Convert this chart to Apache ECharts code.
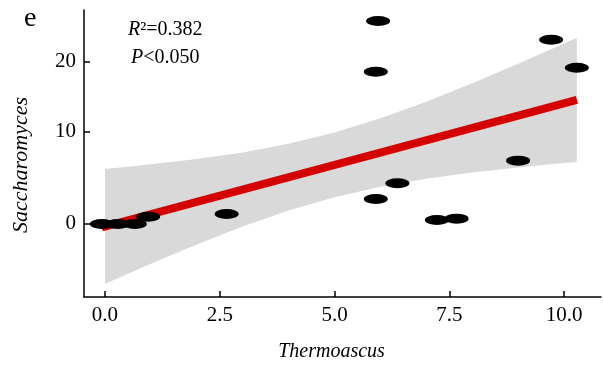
<!DOCTYPE html>
<html>
<head>
<meta charset="utf-8">
<script src="https://cdn.jsdelivr.net/npm/echarts@6/dist/echarts.min.js"></script>
<style>
html,body{margin:0;padding:0;background:#fff;}
#chart{width:603px;height:365px;}
</style>
</head>
<body>
<div id="chart"></div>
<script>
// Observed points (Thermoascus, Saccharomyces)
const pointX = [-0.07, 0.28, 0.65, 0.94, 2.65, 5.90, 6.37, 7.23, 7.66, 9.00, 5.95, 5.90, 9.72, 10.28];
const pointY = [0.0, 0.0, 0.0, 0.66, 0.91, 2.36, 3.98, 0.36, 0.48, 6.49, 26.74, 18.44, 23.55, 19.06];

// Fitted line end points
const lineX = [-0.07, 10.28];
const lineY = [-0.30, 14.30];

// Confidence band
const bandX  = [0, 0.5, 1, 2, 3, 4, 5, 6, 7, 8, 9, 10, 10.28];
const bandLo = [-4.60, -3.92, -3.22, -1.74, -0.23, 1.24, 2.54, 3.62, 4.46, 5.15, 5.71, 6.21, 6.34];
const bandHi = [5.54, 5.79, 6.06, 6.67, 7.45, 8.50, 9.90, 11.76, 14.03, 16.69, 19.67, 22.93, 23.89];

// Axis ticks
const xTicks = [0, 2.5, 5, 7.5, 10];
const yTicks = [0, 10, 20];

// The y axis of the original is drawn on a square-root scale
const OFF = 9.5;
const T = v => Math.sqrt(v + OFF);
const inv = u => u * u - OFF;

const FONT = 'Liberation Serif';
const chart = echarts.init(document.getElementById('chart'), null, {renderer: 'canvas'});

chart.setOption({
  animation: false,
  backgroundColor: '#fff',
  grid: {left: 84, right: 2, top: 10, bottom: 68},
  xAxis: {
    type: 'value', min: -0.4575, max: 10.806,
    axisLine: {onZero: false, lineStyle: {color: '#000', width: 1.5}},
    axisTick: {inside: true, length: 6, customValues: xTicks, lineStyle: {color: '#000', width: 1.5}},
    axisLabel: {customValues: xTicks, formatter: v => Number(v).toFixed(1), margin: 8,
      color: '#000', fontFamily: FONT, fontSize: 21},
    splitLine: {show: false}
  },
  yAxis: {
    type: 'value', min: T(-5.4), max: T(28.68),
    axisLine: {onZero: false, lineStyle: {color: '#000', width: 1.5}},
    axisTick: {inside: true, length: 6, customValues: yTicks.map(T), lineStyle: {color: '#000', width: 1.5}},
    axisLabel: {customValues: yTicks.map(T), formatter: v => String(Math.round(inv(v))), margin: 8,
      color: '#000', fontFamily: FONT, fontSize: 21},
    splitLine: {show: false}
  },
  series: [
    {
      type: 'custom', silent: true, z: 1,
      data: bandX.map((x, i) => [x, T(bandLo[i]), T(bandHi[i])]),
      encode: {x: 0, y: [1, 2]},
      renderItem: function (params, api) {
        if (params.dataIndex !== 0) return null;
        const pts = [];
        for (let i = 0; i < bandX.length; i++) pts.push(api.coord([bandX[i], T(bandHi[i])]));
        for (let i = bandX.length - 1; i >= 0; i--) pts.push(api.coord([bandX[i], T(bandLo[i])]));
        return {type: 'polygon', shape: {points: pts}, style: {fill: '#d9d9d9', stroke: null}};
      }
    },
    {
      type: 'line', z: 2, symbol: 'none', silent: true,
      data: lineX.map((x, i) => [x, T(lineY[i])]),
      lineStyle: {color: '#d40000', width: 8, cap: 'butt', opacity: 1}
    },
    {
      type: 'scatter', z: 3, symbol: 'circle', symbolSize: [24, 10], silent: true,
      data: pointX.map((x, i) => [x, T(pointY[i])]),
      itemStyle: {color: '#000', opacity: 1}
    }
  ],
  graphic: [
    {type: 'text', left: 24, top: 5, style: {text: 'e', font: '28px "Liberation Serif"', fill: '#000'}},
    {type: 'text', x: 128, y: 30, style: {text: '{i|R}²=0.382', font: '20px "Liberation Serif"', fill: '#000',
      verticalAlign: 'middle', rich: {i: {fontStyle: 'italic', fontFamily: FONT, fontSize: 20}}}},
    {type: 'text', x: 131, y: 58, style: {text: '{i|P}<0.050', font: '20px "Liberation Serif"', fill: '#000',
      verticalAlign: 'middle', rich: {i: {fontStyle: 'italic', fontFamily: FONT, fontSize: 20}}}},
    {type: 'text', x: 331.5, y: 352, style: {text: 'Thermoascus', font: 'italic 20px "Liberation Serif"', fill: '#000',
      align: 'center', verticalAlign: 'middle'}},
    {type: 'text', x: 21, y: 165, rotation: Math.PI / 2, style: {text: 'Saccharomyces', font: 'italic 22px "Liberation Serif"', fill: '#000',
      align: 'center', verticalAlign: 'middle'}}
  ]
});
</script>
</body>
</html>
